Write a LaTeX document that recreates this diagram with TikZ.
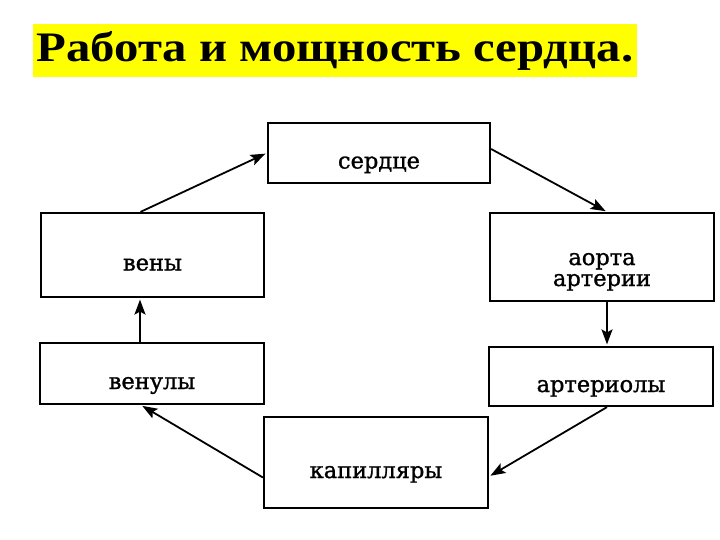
\documentclass[tikz,border=0pt]{standalone}
\usepackage{fontspec}
\setmainfont{DejaVu Serif}[FakeBold=1.2]
\newfontfamily\titlefont{Liberation Serif}
\usetikzlibrary{arrows.meta}
\tikzset{
    organ/.style={rectangle, draw=black, line width=2.2pt, align=center, inner sep=0pt,
                  text height=31pt, text depth=0pt, font=\fontsize{22.5}{21}\selectfont},
    flow/.style={line width=1.8pt, -{Stealth[length=15pt,width=11pt,inset=3pt]}, shorten >=1.5pt}
}
\begin{document}
\begin{tikzpicture}[x=1pt, y=-1pt]
                \useasboundingbox (0,0) rectangle (720,540);
                \node[fill={rgb,255:red,255;green,255;blue,0}, minimum width=604pt, minimum height=53pt, inner sep=0pt,
                      font=\titlefont\bfseries\fontsize{42}{46}\selectfont] (title) at (335,50.5) {\scalebox{1.16}[1]{Работа и мощность сердца.}};
                \node[organ, minimum width=222pt, minimum height=60pt] (serdce) at (379,153) {сердце};
                \node[organ, minimum width=223pt, minimum height=84pt] (veny) at (152.5,255) {вены};
                \node[organ, minimum width=224pt, minimum height=88pt, text height=58pt, text depth=0pt] (aorta) at (602,257) {аорта\\артерии};
                \node[organ, minimum width=224pt, minimum height=61pt] (venuly) at (152,373.5) {венулы};
                \node[organ, minimum width=224pt, minimum height=59pt] (arterioly) at (601,376.5) {артериолы};
                \node[organ, minimum width=224pt, minimum height=91pt] (kapillyary) at (376,462.5) {капилляры};
                \draw[flow] ([xshift=-12pt]veny.north) -- (serdce.west);
                \draw[flow] ([yshift=4pt]serdce.east) -- ([xshift=5pt]aorta.north);
                \draw[flow] ([xshift=5pt]aorta.south) -- ([xshift=6pt]arterioly.north);
                \draw[flow] ([xshift=6pt]arterioly.south) -- ([yshift=-14pt]kapillyary.east);
                \draw[flow] ([yshift=-15pt]kapillyary.west) -- ([xshift=-11pt]venuly.south);
                \draw[flow] ([xshift=-12pt]venuly.north) -- ([xshift=-12.5pt]veny.south);
            \end{tikzpicture}
\end{document}
